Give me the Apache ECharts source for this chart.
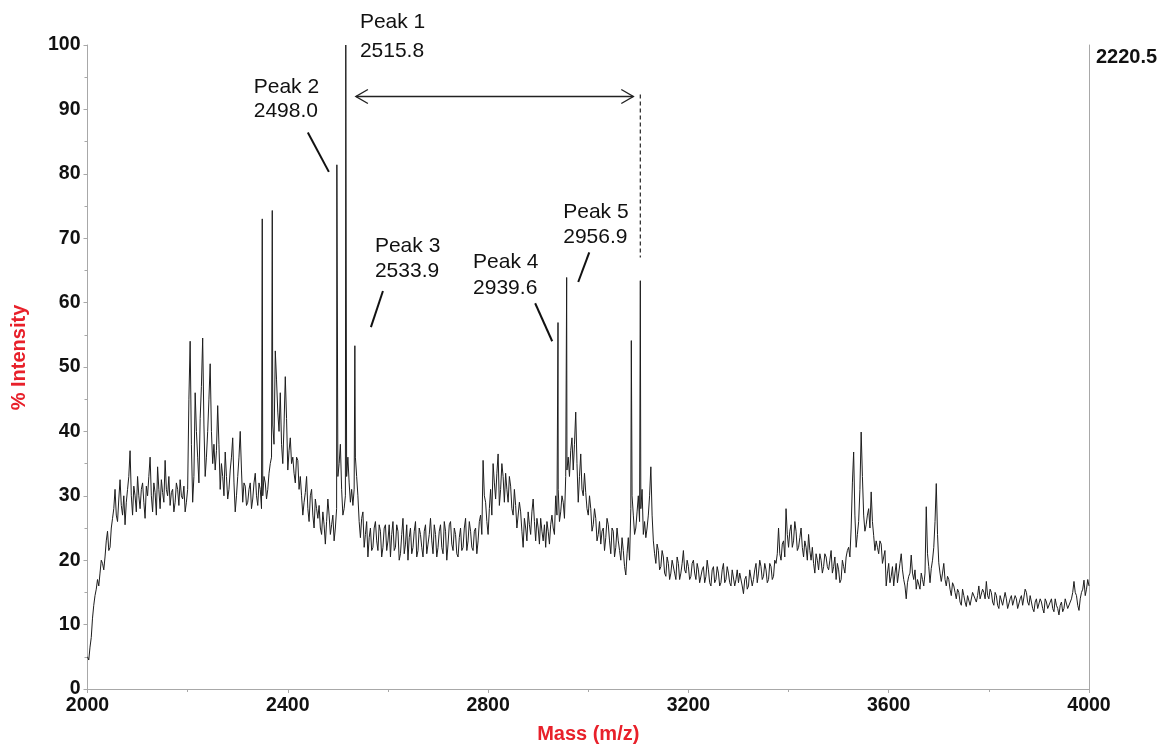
<!DOCTYPE html>
<html>
<head>
<meta charset="utf-8">
<script src="https://cdn.jsdelivr.net/npm/echarts@6/dist/echarts.min.js"></script>
<style>
  html, body { margin: 0; padding: 0; background: #ffffff; }
  #chart { width: 1160px; height: 749px; }
</style>
</head>
<body>
<div id="chart"></div>
<script>
// MALDI-TOF spectrum, % intensity vs. m/z from 2000 to 4000.
// Each 200 m/z block holds 40 readings on the 5 m/z grid (int....)
// and 40 readings halfway between them (mid....).
const MZ_START = 2000;
const MZ_STEP = 5;
const BLOCK_WIDTH = 200;

const int2000 = [5, 6.5, 11, 14.5, 17, 18, 19.5, 20.5, 24.5, 22,
  26.5, 31, 26, 32.5, 27, 25.5, 31, 37, 27, 30,
  33, 28, 32, 26.5, 30, 36, 27.5, 30.5, 34.5, 28,
  30.5, 35.5, 30, 28.5, 31, 29, 31, 32.5, 29.5, 27.5];
const mid2000 = [4.5, 8, 13, 15.5, 16, 20, 18.5, 23, 21.5, 25,
  28, 27, 29.5, 28.5, 30, 29, 33, 30, 31.5, 27.5,
  30, 31, 29, 31.5, 33, 30, 32, 27, 31, 32.5,
  29, 31, 33, 30.5, 27.5, 32, 28.5, 30, 31.5, 29];

const int2200 = [31, 54, 29, 46, 36, 42, 54.5, 33, 40, 50.5,
  35, 34, 44, 31, 33, 36.8, 29.5, 34, 39, 27.5,
  33, 40, 29, 31.5, 29, 32, 29.5, 33.5, 28.5, 31,
  30, 32, 31, 35, 41, 52.5, 43, 46, 35, 48.5];
const mid2200 = [45, 38, 33, 40, 32, 47, 41, 36, 45, 40,
  38, 37, 38, 35, 30, 33, 31, 36, 32, 30,
  36, 34, 32, 28.5, 31, 28, 32, 30, 32, 28,
  33, 29.5, 33.5, 36, 38, 48, 40, 38, 41, 42];

const int2400 = [34, 39, 36, 32, 35.5, 33, 27, 30.5, 28, 30,
  27, 29.5, 26.5, 25, 27.5, 22.5, 29.5, 24, 27, 25,
  33, 38, 27, 30, 36, 29, 28.5, 36, 30, 23.5,
  27.5, 24, 20.5, 25, 22, 26, 21.5, 24.5, 22, 25.5];
const mid2400 = [37, 35, 33.5, 36, 31, 30, 29, 33, 26, 31,
  25, 28, 28.5, 24, 25.5, 26, 27, 25.5, 23, 28,
  35, 31, 28, 33, 32, 31, 31, 33, 26, 26.5,
  22, 26, 23.5, 21.5, 25, 23, 25.5, 20.5, 25, 21.5];

const int2600 = [23, 20.5, 26, 22, 24.5, 21, 26.5, 22.5, 20, 25,
  22, 26, 21.5, 24, 20.5, 25.5, 22.5, 26.5, 21, 24,
  22, 25.5, 21, 24.5, 22.5, 26, 21.5, 24, 20.5, 25,
  22, 26.5, 23, 24.5, 21.5, 25, 23, 27, 35.5, 29];
const mid2600 = [25.5, 24, 21.5, 25.5, 20, 24, 21, 25.5, 23.5, 21,
  24.5, 20.5, 25, 22, 24.5, 21, 24, 23, 25.5, 20.5,
  24.5, 22, 26, 20, 25.5, 22.5, 25, 21, 23.5, 21.5,
  25, 21.5, 26, 22, 24.5, 21, 26, 24, 30, 26];

const int2800 = [24, 31, 35, 29.5, 36.5, 31, 33, 33.5, 29, 31.5,
  27, 28.5, 25, 27.5, 22, 25, 27.5, 24, 29.5, 23,
  25, 26.5, 23, 22, 24.5, 25.5, 25, 30, 31, 27.5,
  29, 33, 36, 37, 34, 43, 29, 36.5, 30, 30.5];
const mid2800 = [28, 27, 32, 33.5, 28.5, 35, 29, 31, 33, 28,
  31, 25, 29, 24.5, 26.5, 23, 25.5, 27.5, 26, 26.5,
  22.5, 24.5, 25.5, 26, 22.5, 27, 24, 27, 26, 30,
  26.5, 34, 33, 39, 38, 35, 33, 31, 33.5, 28];

const int3000 = [27, 28, 25.5, 26.5, 24, 22.5, 25, 23.5, 25.5, 21,
  24.5, 22, 23, 20, 21.5, 17.7, 23.5, 28, 27, 25,
  30, 28, 24, 23.5, 27, 34.5, 23, 19.5, 21.5, 19,
  20.5, 17.5, 19.5, 18, 20, 17, 19.5, 18, 21.5, 18];
const mid3000 = [30, 24.5, 28, 23, 26, 24.5, 21.5, 26.5, 23, 25,
  20.5, 25, 21.5, 23.5, 19, 21, 20, 30, 24, 27.5,
  26, 31, 26, 25, 30, 27, 21, 22.5, 18.5, 21.5,
  18, 20.5, 17, 20, 18, 20.5, 17, 19.5, 18.5, 20];

const int3200 = [19, 17.5, 20, 17, 18.5, 16.5, 19, 17.5, 18.5, 16,
  19, 17, 18, 16.5, 19.5, 17, 18, 16, 18.5, 17,
  16.5, 18, 14.8, 17.5, 16, 18.5, 17, 19.5, 18, 19,
  17.5, 18.5, 17, 19, 17.5, 19.5, 25, 20, 23, 28];
const mid3200 = [17, 19.5, 18, 19.5, 16.5, 18.5, 16.5, 20, 16.5, 18.5,
  16.5, 19, 16, 18.5, 16.5, 19, 16.5, 18.5, 16, 18.5,
  18, 16, 17, 15.5, 18.5, 16, 18.5, 16.5, 20, 17,
  19.5, 16.5, 19.5, 17, 20, 21, 21, 22.5, 20.5, 24];

const int3400 = [22, 25.5, 23, 24.5, 22, 25, 20.5, 22, 24, 20,
  19.5, 21, 18.5, 20, 19, 20.5, 18.5, 21.5, 19, 17,
  18.5, 17, 19, 20.5, 22, 25, 36.8, 22, 26, 39.9,
  27, 25.5, 28, 30.6, 23.8, 23, 21, 22.5, 20.5, 16];
const mid3400 = [24.5, 22, 26, 21.5, 23.5, 22, 23, 20, 21.5, 22,
  18, 20, 21, 18, 21, 19, 20, 18, 20.5, 19.5,
  16.5, 20, 18, 21.5, 20.5, 32, 27, 24, 31, 33,
  24.5, 27, 25, 26, 21.5, 22, 23, 19.5, 21.5, 18];

const int3600 = [19.5, 17.5, 16, 19.5, 18, 21, 17, 14, 17.5, 20.8,
  17, 15.5, 17, 18, 16, 28.3, 19, 18.7, 22, 31.9,
  19.6, 16.7, 19.5, 16, 17, 14.5, 16, 14, 15, 13,
  14.5, 12.8, 14.5, 13.2, 15, 13.5, 16, 14, 15, 16.7];
const mid3600 = [16.5, 19, 18, 16.5, 19.5, 18.5, 16, 16.5, 18, 18,
  18.5, 17, 15.5, 17, 18, 21, 16.5, 20, 26, 24,
  18, 18, 17, 17.5, 15.5, 16.5, 15, 15.5, 13.5, 15.5,
  13.5, 14.5, 13, 15, 14, 14.5, 14, 15.5, 14, 14.5];

const int3800 = [14, 15, 13, 14.5, 12.5, 14.8, 13, 14, 12.5, 14.5,
  13, 14, 12.2, 14.5, 13, 15, 13, 13.5, 12, 14,
  12.5, 13.5, 11.8, 13.5, 12.5, 14, 12, 13, 11.5, 13.5,
  12.5, 13.8, 12.5, 14, 16.7, 14.5, 12.2, 15, 16.9, 15.5,
  16];
const mid3800 = [15.5, 13.5, 15, 13, 14.5, 13, 15, 12.5, 14, 13,
  14.5, 12.5, 14, 13, 15.5, 13.5, 14.5, 12.5, 13.5, 12.5,
  14, 12.5, 14, 12.5, 13.5, 12.5, 14, 12.5, 13, 12,
  14, 12.5, 13.5, 15, 15, 13, 14, 15.5, 14.5, 17];

// sharp peaks between the readings above
const PEAK_MZ = [2349, 2369, 2498.0, 2515.8, 2533.9, 2939.6, 2956.9, 3086, 3104];
const PEAK_INT = [73, 74.3, 81.4, 100, 53.3, 56.9, 63.9, 54.1, 63.4];

// axis ticks
const X_MIN = 2000, X_MAX = 4000, X_STEP = 400;
const Y_MIN = 0, Y_MAX = 100, Y_STEP = 10;
const BASE_PEAK_COUNTS = '2220.5';

// annotations, anchored in data units (m/z, % intensity)
const LABEL_NAMES = ['Peak 1', 'Peak 2', 'Peak 3', 'Peak 4', 'Peak 5'];
const LABEL_MASSES = ['2515.8', '2498.0', '2533.9', '2939.6', '2956.9'];
const LABEL_AT = [[2544, 103.5, 99.1], [2332, 93.5, 89.7], [2574, 68.7, 64.9], [2770, 66.3, 62.3], [2950, 74.1, 70.2]];
const LEADERS = [
  [[2440, 86.4], [2482, 80.3]],
  [[2590, 61.8], [2566, 56.2]],
  [[2894, 59.9], [2928, 54.0]],
  [[3002, 67.8], [2980, 63.2]]
];
const SPACING_ARROW = [[2536, 92], [3090, 92]];
const SPACING_MARK = [[3104, 92.3], [3104, 67]];

const FONT = "'Liberation Sans', Arial, Helvetica, sans-serif";
const RED = '#e8202a';
const AXIS_GRAY = '#a8a8a8';

const blocks = [
  [int2000, mid2000], [int2200, mid2200], [int2400, mid2400], [int2600, mid2600], [int2800, mid2800],
  [int3000, mid3000], [int3200, mid3200], [int3400, mid3400], [int3600, mid3600], [int3800, mid3800]
];
const points = [];
blocks.forEach(([grid, mids], b) => {
  const base = MZ_START + b * BLOCK_WIDTH;
  grid.forEach((v, i) => points.push([base + i * MZ_STEP, v]));
  mids.forEach((v, i) => points.push([base + i * MZ_STEP + MZ_STEP / 2, v]));
});
PEAK_MZ.forEach((m, i) => points.push([m, PEAK_INT[i]]));
points.sort((a, b) => a[0] - b[0]);

const chart = echarts.init(document.getElementById('chart'), null, { renderer: 'canvas' });

chart.setOption({
  animation: false,
  backgroundColor: '#ffffff',
  grid: { left: 87.5, right: 71, top: 45, bottom: 59, containLabel: false },
  xAxis: {
    type: 'value', min: X_MIN, max: X_MAX, interval: X_STEP,
    name: 'Mass (m/z)', nameLocation: 'middle', nameGap: 35,
    nameTextStyle: { color: RED, fontWeight: 'bold', fontSize: 20, fontFamily: FONT },
    axisLine: { show: true, onZero: false, lineStyle: { color: AXIS_GRAY, width: 1 } },
    axisTick: { show: true, length: 4, lineStyle: { color: AXIS_GRAY } },
    minorTick: { show: true, splitNumber: 2, length: 3, lineStyle: { color: AXIS_GRAY } },
    axisLabel: { color: '#111', fontSize: 19.5, fontWeight: 'bold', fontFamily: FONT, margin: 7, formatter: v => String(v) },
    splitLine: { show: false }
  },
  yAxis: [{
    type: 'value', min: Y_MIN, max: Y_MAX, interval: Y_STEP,
    name: '% Intensity', nameLocation: 'middle', nameGap: 58,
    nameTextStyle: { color: RED, fontWeight: 'bold', fontSize: 20, fontFamily: FONT, padding: [0, 0, 0, 19] },
    axisLine: { show: true, onZero: false, lineStyle: { color: AXIS_GRAY, width: 1 } },
    axisTick: { show: true, length: 4, lineStyle: { color: AXIS_GRAY } },
    minorTick: { show: true, splitNumber: 2, length: 3, lineStyle: { color: AXIS_GRAY } },
    axisLabel: { color: '#111', fontSize: 19.5, fontWeight: 'bold', fontFamily: FONT, margin: 7 },
    splitLine: { show: false }
  }, {
    type: 'value', position: 'right', min: Y_MIN, max: Y_MAX, interval: Y_STEP,
    axisLine: { show: true, onZero: false, lineStyle: { color: AXIS_GRAY, width: 1 } },
    axisTick: { show: false }, axisLabel: { show: false }, splitLine: { show: false }
  }],
  series: [{
    type: 'line',
    data: points,
    showSymbol: false,
    symbol: 'none',
    sampling: null,
    silent: true,
    lineStyle: { color: '#1e1e1e', width: 1 }
  }]
});

// annotation layer, placed through the axes
const px = p => chart.convertToPixel({ xAxisIndex: 0, yAxisIndex: 0 }, [p[0], p[1]]);
const g = [];
const textEl = (str, at, opts) => ({
  type: 'text', x: at[0], y: at[1], silent: true,
  style: Object.assign({ text: str, fill: '#111', fontSize: 21, fontFamily: FONT, align: 'left', verticalAlign: 'middle' }, opts || {})
});

LABEL_NAMES.forEach((n, i) => {
  const a = LABEL_AT[i];
  g.push(textEl(n, px([a[0], a[1]])));
  g.push(textEl(LABEL_MASSES[i], px([a[0], a[2]])));
});
LEADERS.forEach(seg => {
  const p1 = px(seg[0]), p2 = px(seg[1]);
  g.push({ type: 'line', silent: true, shape: { x1: p1[0], y1: p1[1], x2: p2[0], y2: p2[1] }, style: { stroke: '#111', lineWidth: 2 } });
});
{
  const a = px(SPACING_ARROW[0]), b = px(SPACING_ARROW[1]);
  const hl = 12, hw = 7;
  g.push({ type: 'line', silent: true, shape: { x1: a[0], y1: a[1], x2: b[0], y2: b[1] }, style: { stroke: '#222', lineWidth: 1.4 } });
  g.push({ type: 'polyline', silent: true, shape: { points: [[a[0] + hl, a[1] - hw], [a[0], a[1]], [a[0] + hl, a[1] + hw]] }, style: { stroke: '#222', lineWidth: 1.4, fill: null } });
  g.push({ type: 'polyline', silent: true, shape: { points: [[b[0] - hl, b[1] - hw], [b[0], b[1]], [b[0] - hl, b[1] + hw]] }, style: { stroke: '#222', lineWidth: 1.4, fill: null } });
  const d1 = px(SPACING_MARK[0]), d2 = px(SPACING_MARK[1]);
  g.push({ type: 'line', silent: true, shape: { x1: d1[0], y1: d1[1], x2: d2[0], y2: d2[1] }, style: { stroke: '#333', lineWidth: 1.3, lineDash: [4, 3] } });
}
{
  const c = px([X_MAX, Y_MAX]);
  const cy = px([X_MAX, 98.1])[1];
  g.push(textEl(BASE_PEAK_COUNTS, [c[0] + 7, cy], { fontWeight: 'bold', fontSize: 20 }));
}
chart.setOption({ graphic: g });
</script>
</body>
</html>
